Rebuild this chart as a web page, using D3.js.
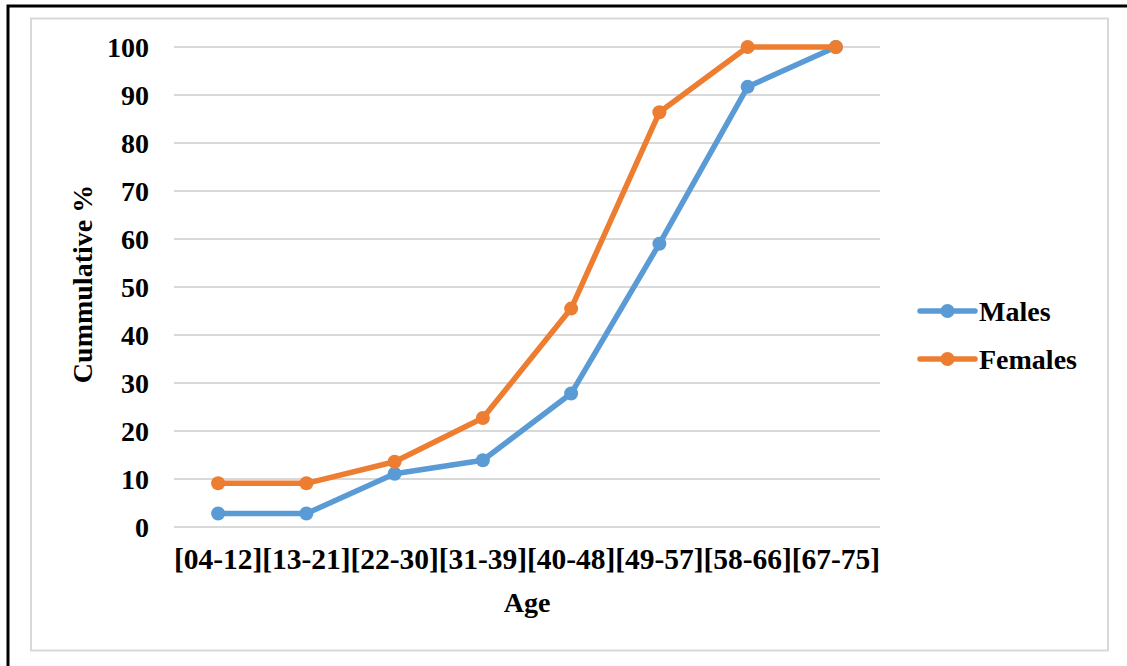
<!DOCTYPE html>
<html>
<head>
<meta charset="utf-8">
<script src="https://cdn.jsdelivr.net/npm/d3@7"></script>
<style>
	body { margin: 0; background: #fff; }
	text { font-family: 'Liberation Serif', 'Times New Roman', serif; font-weight: bold; fill: #000; }
</style>
</head>
<body>
<script>
// Chart data
const ageGroups = ['[04-12]', '[13-21]', '[22-30]', '[31-39]', '[40-48]', '[49-57]', '[58-66]', '[67-75]'];
const males = [2.8, 2.8, 11.1, 13.9, 27.8, 59, 91.7, 100];
const females = [9.1, 9.1, 13.6, 22.7, 45.5, 86.4, 100, 100];
const yTicks = [0, 10, 20, 30, 40, 50, 60, 70, 80, 90, 100];
const seriesNames = ['Males', 'Females'];
const seriesColours = ['#5B9BD5', '#ED7D31'];

const width = 1127;
const height = 666;

const svg = d3.select('body').append('svg').attr('width', width).attr('height', height);

// Outer black frame (only left and top visible)
svg.append('rect')
	.attr('x', 8).attr('y', 6)
	.attr('width', width + 10).attr('height', height + 10)
	.attr('fill', 'none').attr('stroke', '#000').attr('stroke-width', 3);

// Inner chart border
svg.append('rect')
	.attr('x', 31).attr('y', 18.5)
	.attr('width', 1077).attr('height', 632)
	.attr('fill', '#fff').attr('stroke', '#d9d9d9').attr('stroke-width', 2);

const plot = { left: 174, right: 880, top: 47, bottom: 527 };

const x = d3.scaleBand().domain(ageGroups).range([plot.left, plot.right]);
const y = d3.scaleLinear().domain([0, 100]).range([plot.bottom, plot.top]);

// Gridlines
svg.append('g')
	.selectAll('line')
	.data(yTicks)
	.enter()
	.append('line')
	.attr('x1', plot.left)
	.attr('x2', plot.right)
	.attr('y1', (d) => y(d))
	.attr('y2', (d) => y(d))
	.attr('stroke', '#d9d9d9')
	.attr('stroke-width', 2);

// Y axis labels
const yAxis = svg.append('g')
	.attr('transform', `translate(${plot.left - 25}, 0)`)
	.call(d3.axisLeft(y).tickValues(yTicks).tickSize(0).tickPadding(0));
yAxis.select('.domain').remove();
yAxis.selectAll('text')
	.attr('font-size', 28)
	.attr('font-family', null)
	.attr('dy', '0.34em');

// X axis labels
const xAxis = svg.append('g')
	.attr('transform', `translate(0, ${plot.bottom})`)
	.call(d3.axisBottom(x).tickSize(0).tickPadding(0));
xAxis.select('.domain').remove();
xAxis.selectAll('text')
	.attr('font-size', 29.5)
	.attr('font-family', null)
	.attr('dy', null)
	.attr('y', 42);

// Axis titles
svg.append('text')
	.attr('x', 527).attr('y', 612)
	.attr('text-anchor', 'middle')
	.attr('font-size', 28)
	.text('Age');

svg.append('text')
	.attr('transform', 'translate(92, 284) rotate(-90)')
	.attr('text-anchor', 'middle')
	.attr('font-size', 28)
	.text('Cummulative %');

// Lines and markers
const series = [males, females];
const line = d3.line()
	.x((d, i) => x(ageGroups[i]) + x.bandwidth() / 2)
	.y((d) => y(d));

series.forEach((values, s) => {
	svg.append('path')
		.datum(values)
		.attr('d', line)
		.attr('fill', 'none')
		.attr('stroke', seriesColours[s])
		.attr('stroke-width', 5.5)
		.attr('stroke-linejoin', 'round');

	svg.append('g')
		.selectAll('circle')
		.data(values)
		.enter()
		.append('circle')
		.attr('cx', (d, i) => x(ageGroups[i]) + x.bandwidth() / 2)
		.attr('cy', (d) => y(d))
		.attr('r', 7)
		.attr('fill', seriesColours[s]);
});

// Legend
const legend = svg.append('g')
	.selectAll('g')
	.data(seriesNames)
	.enter()
	.append('g')
	.attr('transform', (d, i) => `translate(920, ${311 + i * 48})`);

legend.append('line')
	.attr('x1', 0).attr('x2', 55)
	.attr('stroke', (d, i) => seriesColours[i])
	.attr('stroke-width', 5.5)
	.attr('stroke-linecap', 'round');

legend.append('circle')
	.attr('cx', 27.5).attr('r', 7)
	.attr('fill', (d, i) => seriesColours[i]);

legend.append('text')
	.attr('x', 59)
	.attr('dy', '0.34em')
	.attr('font-size', 28)
	.text((d) => d);
</script>
</body>
</html>
